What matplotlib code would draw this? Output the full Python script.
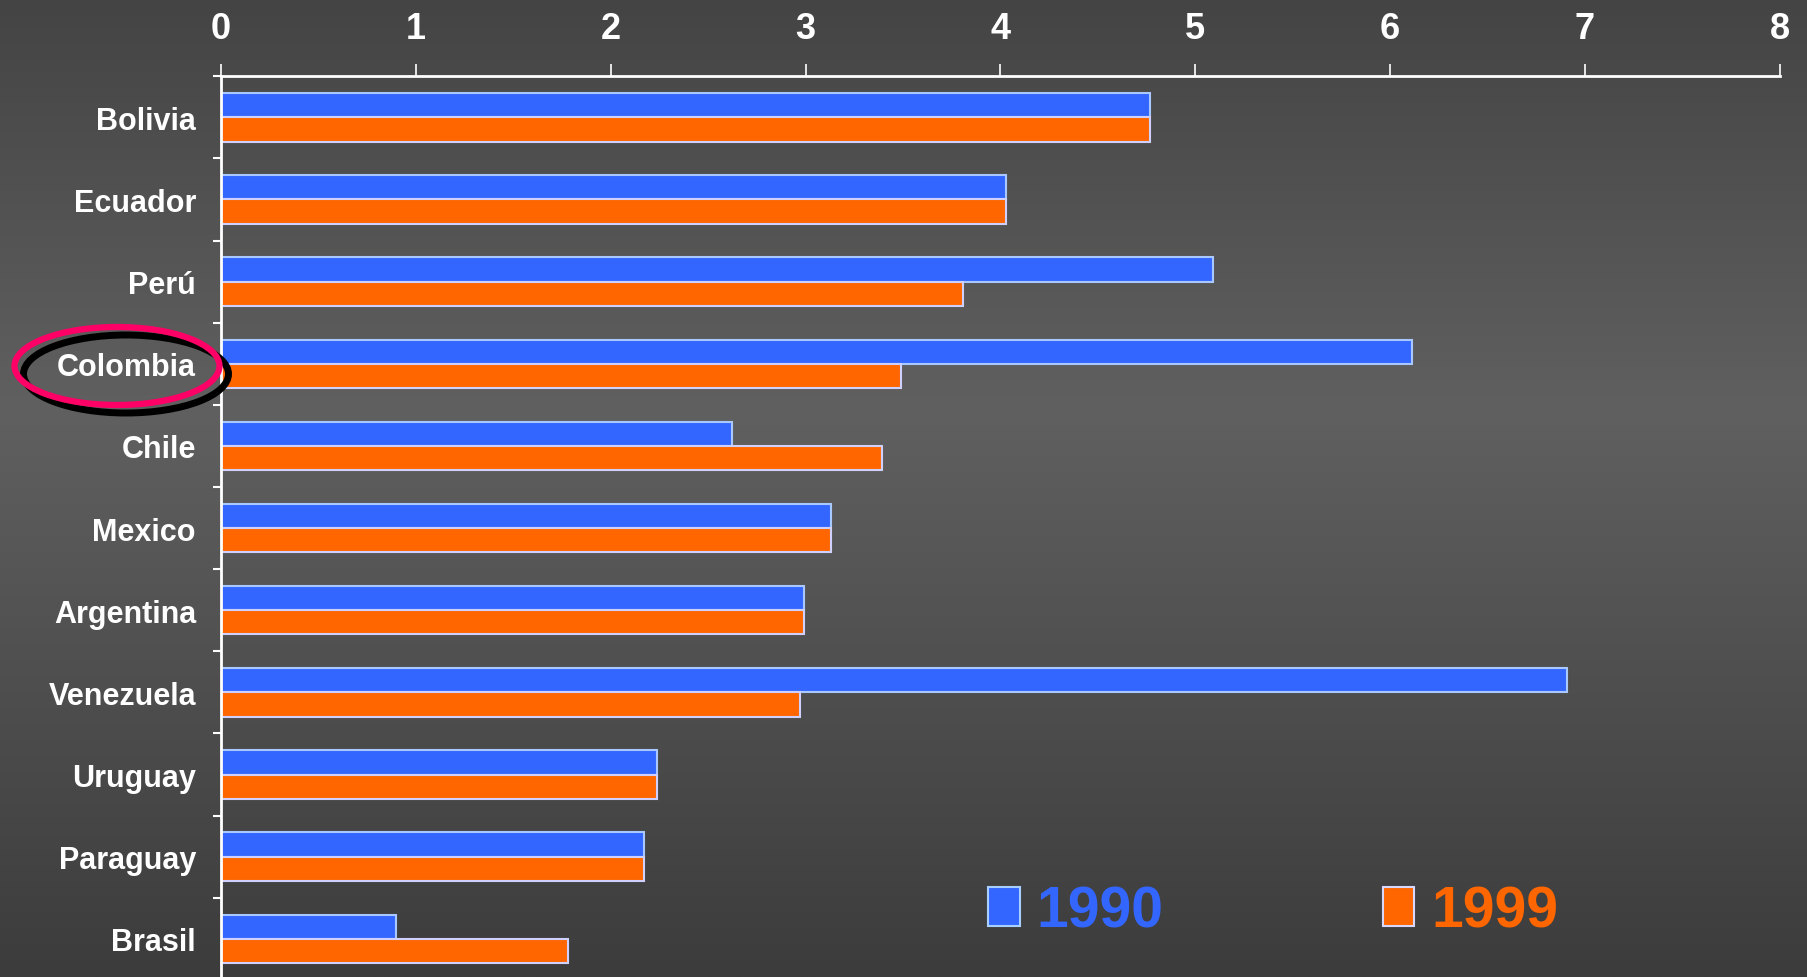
import numpy as np
import matplotlib.pyplot as plt
from matplotlib.patches import Ellipse, Patch

# data
countries = ['Bolivia', 'Ecuador', 'Perú', 'Colombia', 'Chile', 'Mexico',
             'Argentina', 'Venezuela', 'Uruguay', 'Paraguay', 'Brasil']
v1990 = [4.77, 4.03, 5.09, 6.11, 2.62, 3.13, 2.99, 6.91, 2.24, 2.17, 0.90]
v1999 = [4.77, 4.03, 3.81, 3.49, 3.39, 3.13, 2.99, 2.97, 2.24, 2.17, 1.78]
years = ['1990', '1999']
xticks = [0, 1, 2, 3, 4, 5, 6, 7, 8]

blue = '#3366ff'
orange = '#ff6600'

plt.rcParams['font.family'] = ['Liberation Sans', 'DejaVu Sans']
fig = plt.figure(figsize=(18.07, 9.78), dpi=100)

# background gradient, dark at top and bottom, lighter in the middle
bg = fig.add_axes([0, 0, 1, 1], zorder=-1)
yy = np.linspace(0, 1, 400)
shade = np.interp(yy, [0, 0.42, 1], [0x44, 0x60, 0x3c]) / 255.0
img = np.repeat(shade[:, None], 2, axis=1)
bg.imshow(np.dstack([img, img, img]), aspect='auto', extent=[0, 1, 1, 0])
bg.axis('off')

ax = fig.add_axes([0.1223, -0.003, 0.8627, 0.924])
ax.patch.set_alpha(0)
y = np.arange(len(countries))
h = 0.295
ax.barh(y - h / 2, v1990, height=h, color=blue, edgecolor='#a8c8ff', linewidth=1.5)
ax.barh(y + h / 2, v1999, height=h, color=orange, edgecolor='#d0d0ff', linewidth=1.5)

ax.set_xlim(0, 8)
ax.set_ylim(len(countries) - 0.5, -0.5)
ax.xaxis.tick_top()
ax.set_xticks(xticks)
ax.set_xticklabels([str(t) for t in xticks], fontsize=26, fontweight='bold', color='white')
ax.tick_params(axis='x', which='major', direction='out', length=9, width=1.2,
               color='white', pad=13)
ax.set_yticks(y)
ax.set_yticklabels(countries, fontsize=22, fontweight='bold', color='white',
                   va='center_baseline')
ax.set_yticks(np.arange(len(countries) + 1) - 0.5, minor=True)
ax.tick_params(axis='y', which='major', length=0, pad=18)
ax.tick_params(axis='y', which='minor', direction='out', length=6, width=1.5, color='white')
for s in ['bottom', 'right']:
    ax.spines[s].set_visible(False)
ax.spines['top'].set_color('white')
ax.spines['top'].set_linewidth(2)
ax.spines['left'].set_color('white')
ax.spines['left'].set_linewidth(2)

# legend
handles = [Patch(facecolor=blue, edgecolor='#a8d0ff', linewidth=1.5),
           Patch(facecolor=orange, edgecolor='#d8d8ff', linewidth=1.5)]
fig.legend(handles, years, loc='center left', bbox_to_anchor=(0.547, 0.067), ncol=2,
           frameon=False, prop={'size': 41, 'weight': 'bold'}, labelcolor=[blue, orange],
           handlelength=0.55, handleheight=0.66, handletextpad=0.3, columnspacing=3.85,
           borderpad=0, borderaxespad=0)

# highlight ellipse round Colombia
ov = fig.add_axes([0, 0, 1, 1], zorder=5)
ov.set_xlim(0, 1807)
ov.set_ylim(978, 0)
ov.axis('off')
ov.add_patch(Ellipse((126, 375), 205, 78, fill=False, edgecolor='black', linewidth=5))
ov.add_patch(Ellipse((117, 367), 205, 78, fill=False, edgecolor='#ff0066', linewidth=4.5))

fig.savefig('out.png', dpi=100)
